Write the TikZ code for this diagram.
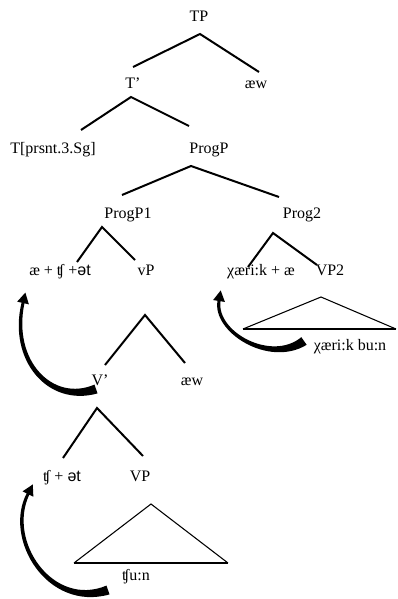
\documentclass[tikz,border=0pt]{standalone}
\usepackage{fontspec}
\setmainfont{Liberation Serif}
\newfontfamily\ipasans{Liberation Sans}
\usetikzlibrary{calc}
% tapered movement arrow: tail, control, control, head
\newcommand{\movearrow}[4]{%
  \fill ($(#1)!3.5pt!90:(#2)$) .. controls ($(#2)!2.8pt!90:(#3)$) and ($(#3)!1.8pt!90:(#4)$)
    .. ($(#4)!1.1pt!-90:(#3)$) -- ($(#4)!4.5pt!-90:(#3)$) -- ($(#4)!-8pt!(#3)$)
    -- ($(#4)!4.5pt!90:(#3)$) -- ($(#4)!1.1pt!90:(#3)$)
    .. controls ($(#3)!1.8pt!-90:(#4)$) and ($(#2)!2.8pt!-90:(#3)$) .. ($(#1)!3.5pt!-90:(#2)$)
    -- cycle;}
\begin{document}
\begin{tikzpicture}[x=0.75pt,y=-0.75pt,
  every node/.style={font=\fontsize{12}{14}\selectfont, inner sep=0pt, text height=8pt, text depth=2.5pt},
  branch/.style={line width=1.5pt},
  roof/.style={line width=0.8pt}]
  \useasboundingbox (0,0) rectangle (397,599);
  \node (tp) at (199,18) {TP}; \node (tbar) at (133,85) {T’};
  \node (aew1) at (256,85) {æw}; \node (tprs) at (53,150) {T[prsnt.3.Sg]};
  \node (progp) at (209,150) {ProgP}; \node (progpa) at (128,215) {ProgP1};
  \node (progb) at (302,215) {Prog2}; \node (hd1) at (60,272) {æ + ʧ +{\ipasans ət}};
  \node (vp) at (146,272) {vP}; \node (hd2) at (261,272) {χæri:k + æ};
  \node (vp2) at (330,272) {VP2}; \node (lex2) at (350,347) {χæri:k bu:n};
  \node (vbar) at (100,382) {V’}; \node (aew2) at (192,382) {æw};
  \node (hd3) at (62,478) {ʧ + {\ipasans ət}}; \node (vpl) at (140,478) {VP};
  \node (lex3) at (136,577) {ʧu:n};
  % branches
  \draw[branch] ($(tbar)+(0,-18)$) -- ($(tp)+(1,16)$) -- ($(aew1)+(3,-13)$);
  \draw[branch] ($(tprs)+(28,-20)$) -- ($(tbar)+(-2,12)$) -- ($(progp)+(-20,-24)$);
  \draw[branch] ($(progpa)+(-6,-20)$) -- ($(progp)+(-18,16)$) -- ($(progb)+(-23,-18)$);
  \draw[branch] ($(hd1)+(17,-10)$) -- ($(progpa)+(-26,12)$) -- ($(vp)+(-11,-12)$);
  \draw[branch] ($(hd2)+(-13,-5)$) -- ($(progb)+(-29,18)$) -- ($(vp2)+(-13,-7)$);
  \draw[branch] ($(vbar)+(5,-17)$) -- ($(vp)+(-1,43)$) -- ($(aew2)+(-7,-19)$);
  \draw[branch] ($(hd3)+(1,-20)$) -- ($(vbar)+(-3,26)$) -- ($(vpl)+(3,-22)$);
  % roofs
  \draw[roof] ($(lex2)+(-107,-18)$) -- ($(vp2)+(-9,25)$) -- ($(lex2)+(46,-18)$);
  \draw[line width=1.2pt] ($(lex2)+(-107,-18)$) -- ($(lex2)+(46,-18)$);
  \draw[roof] ($(lex3)+(-62,-14)$) -- ($(vpl)+(11,26)$) -- ($(lex3)+(92,-14)$);
  \draw[line width=1.2pt] ($(lex3)+(-62,-14)$) -- ($(lex3)+(92,-14)$);
  % movement
  \coordinate (m1t) at ($(vbar)+(-4,7)$); \coordinate (m1h) at ($(hd1)+(-37,31)$);
  \coordinate (m1a) at (50,405); \coordinate (m1b) at (10,360);
  \movearrow{m1t}{m1a}{m1b}{m1h}
  \coordinate (m2t) at ($(lex2)+(-46,-6)$); \coordinate (m2h) at ($(hd2)+(-42,29)$);
  \coordinate (m2a) at (270,365); \coordinate (m2b) at (214,332);
  \movearrow{m2t}{m2a}{m2b}{m2h}
  \coordinate (m3t) at ($(lex3)+(-28,13)$); \coordinate (m3h) at ($(hd3)+(-34,16)$);
  \coordinate (m3a) at (50,610); \coordinate (m3b) at (5,540);
  \movearrow{m3t}{m3a}{m3b}{m3h}
\end{tikzpicture}
\end{document}
